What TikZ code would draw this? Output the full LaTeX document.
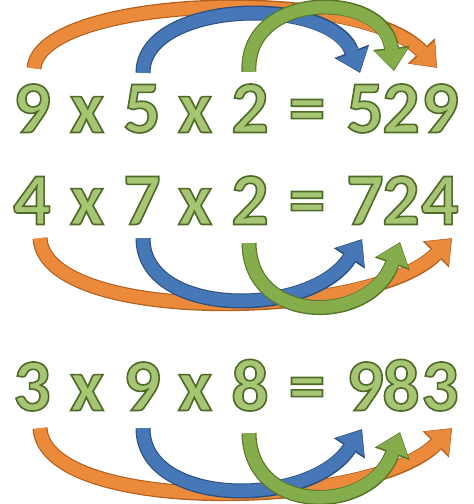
\documentclass[tikz,border=0pt]{standalone}
\usepackage{fontspec}
\setmainfont{Carlito}
\newfontfamily\outlinefont[FakeBold=2.2]{Carlito}
\usetikzlibrary{arrows.meta}
\definecolor{ofill}{HTML}{EC8A3C}
\definecolor{oline}{HTML}{B4601F}
\definecolor{bfill}{HTML}{4677B6}
\definecolor{bline}{HTML}{2C507F}
\definecolor{grfill}{HTML}{86AD4C}
\definecolor{grline}{HTML}{587828}
\newcommand\greentext[1]{\special{pdf:bcolor [0.651 0.776 0.451] [0.31 0.416 0.157]}#1\special{pdf:ecolor}}
\tikzset{
  glyph/.style={font=\fontsize{74}{74}\selectfont\outlinefont\bfseries, inner sep=0pt,
    text height=47pt, text depth=0pt, anchor=center},
  arrowout/.style={line width=15pt, draw=#1,
    -{Triangle[length=23pt,width=37pt,line width=0.5pt]}},
  arrowin/.style={line width=12.6pt, draw=#1, shorten >=1.3pt,
    -{Triangle[length=20pt,width=33pt,line width=0.5pt]}},
}
\newcommand\gchar[4]{%
  \node[glyph] (#1) at (#2,#3) {\greentext{#4}};
}
\newcommand\fatarrow[3]{%
  \draw[arrowout=#2] #3;
  \draw[arrowin=#1] #3;
}
\begin{document}
\begin{tikzpicture}[x=1pt,y=-1pt]
\useasboundingbox (0,0) rectangle (474,504);
% row 1
\gchar{a1}{32}{109}{9}
\gchar{x11}{87}{109}{x}
\gchar{b1}{142}{109}{5}
\gchar{x12}{195}{109}{x}
\gchar{c1}{250}{109}{2}
\gchar{q1}{307}{109}{=}
\gchar{d1}{365}{109}{5}
\gchar{e1}{401}{109}{2}
\gchar{f1}{440}{109}{9}
% row 2
\gchar{a2}{32}{201}{4}
\gchar{x21}{87}{201}{x}
\gchar{b2}{142}{201}{7}
\gchar{x22}{195}{201}{x}
\gchar{c2}{250}{201}{2}
\gchar{q2}{307}{201}{=}
\gchar{d2}{365}{201}{7}
\gchar{e2}{401}{201}{2}
\gchar{f2}{440}{201}{4}
% row 3
\gchar{a3}{32}{387}{3}
\gchar{x31}{87}{387}{x}
\gchar{b3}{142}{387}{9}
\gchar{x32}{195}{387}{x}
\gchar{c3}{250}{387}{8}
\gchar{q3}{307}{387}{=}
\gchar{d3}{365}{387}{9}
\gchar{e3}{401}{387}{8}
\gchar{f3}{440}{387}{3}
% arrows row 1 (above)
\fatarrow{ofill}{oline}{([xshift=2pt,yshift=17pt]a1.north) .. controls +(6,-73) and +(-77,-83) .. ([xshift=-3pt,yshift=17.5pt]f1.north)}
\fatarrow{bfill}{bline}{([xshift=1pt,yshift=12.5pt]b1.north) .. controls +(0,-73) and +(-30,-78) .. ([xshift=-5pt,yshift=12.5pt]d1.north)}
\fatarrow{grfill}{grline}{([xshift=-1pt,yshift=13.5pt]c1.north) .. controls +(-4,-82) and +(-9,-81) .. ([xshift=-7pt,yshift=14.5pt]e1.north)}
% arrows row 2 (below)
\fatarrow{ofill}{oline}{([xshift=8pt,yshift=-13.5pt]a2.south) .. controls +(5,87) and +(-82,82) .. ([xshift=12pt,yshift=-13.5pt]f2.south)}
\fatarrow{bfill}{bline}{([xshift=1pt,yshift=-13.5pt]b2.south) .. controls +(0,80) and +(-52,79) .. ([xshift=-3pt,yshift=-14.5pt]d2.south)}
\fatarrow{grfill}{grline}{([xshift=-1pt,yshift=-18.5pt]c2.south) .. controls +(1,82) and +(-30,83) .. ([xshift=-1pt,yshift=-17.5pt]e2.south)}
% arrows row 3 (below)
\fatarrow{ofill}{oline}{([xshift=8pt,yshift=-17.5pt]a3.south) .. controls +(5,87) and +(-82,82) .. ([xshift=12pt,yshift=-17.5pt]f3.south)}
\fatarrow{bfill}{bline}{([xshift=1pt,yshift=-17.5pt]b3.south) .. controls +(0,80) and +(-52,79) .. ([xshift=-3pt,yshift=-18.5pt]d3.south)}
\fatarrow{grfill}{grline}{([xshift=-1pt,yshift=-22.5pt]c3.south) .. controls +(1,82) and +(-30,83) .. ([xshift=-1pt,yshift=-21.5pt]e3.south)}
\end{tikzpicture}
\end{document}
